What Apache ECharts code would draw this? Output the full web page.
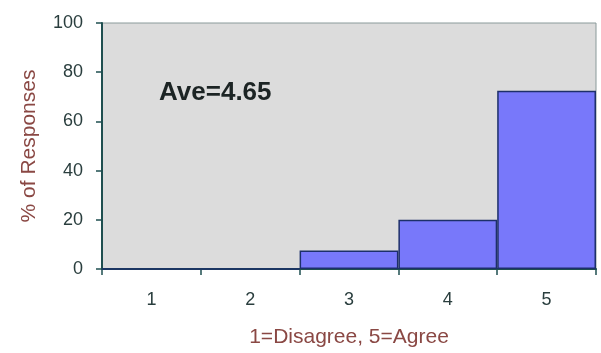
<!DOCTYPE html>
<html>
<head>
<meta charset="utf-8">
<script src="https://cdn.jsdelivr.net/npm/echarts@6/dist/echarts.min.js"></script>
<style>
  html, body { margin: 0; padding: 0; background: #ffffff; }
  #chart { width: 601px; height: 353px; }
</style>
</head>
<body>
<div id="chart"></div>
<script>
// Rating categories (1 = Disagree, 5 = Agree) and share of responses per rating
const categories = ['1', '2', '3', '4', '5'];
const percentResponses = [0, 0, 7.5, 20, 72.5];
const yTicks = { min: 0, max: 100, interval: 20 };
const averageLabel = 'Ave=4.65';
const xTitle = '1=Disagree, 5=Agree';
const yTitle = '% of Responses';

const chart = echarts.init(document.getElementById('chart'), null, { renderer: 'canvas' });

const axisColor = '#1f4f50';
const tickText = '#2a3e3e';
const titleText = '#8a4844';
const font = 'Liberation Sans, Arial, sans-serif';

chart.setOption({
  animation: false,
  backgroundColor: '#ffffff',
  grid: {
    left: 102, right: 5, top: 23, bottom: 82,
    show: true,
    backgroundColor: '#dcdcdc',
    borderColor: '#8a9a9a',
    borderWidth: 1
  },
  xAxis: {
    type: 'category',
    data: categories,
    boundaryGap: true,
    name: xTitle,
    nameLocation: 'middle',
    nameGap: 58,
    nameTextStyle: { color: titleText, fontSize: 21, fontFamily: font },
    axisLine: { show: true, lineStyle: { color: axisColor, width: 2 } },
    axisTick: { show: true, alignWithLabel: false, length: 6, lineStyle: { color: axisColor, width: 1.5 } },
    axisLabel: { color: tickText, fontSize: 18, fontFamily: font, margin: 22 },
    splitLine: { show: false }
  },
  yAxis: {
    type: 'value',
    min: yTicks.min,
    max: yTicks.max,
    interval: yTicks.interval,
    name: yTitle,
    nameLocation: 'middle',
    nameGap: 62,
    nameTextStyle: { color: titleText, fontSize: 21, fontFamily: font },
    axisLine: { show: true, lineStyle: { color: axisColor, width: 2 } },
    axisTick: { show: true, length: 6, lineStyle: { color: axisColor, width: 1.5 } },
    axisLabel: { color: tickText, fontSize: 18, fontFamily: font, margin: 19 },
    splitLine: { show: false }
  },
  series: [{
    type: 'bar',
    data: percentResponses,
    barCategoryGap: '0%',
    itemStyle: {
      color: '#7878fa',
      borderColor: '#1d2f6a',
      borderWidth: 1.5
    }
  }],
  graphic: [{
    type: 'text',
    left: 159,
    top: 80,
    style: {
      text: averageLabel,
      fill: '#1c2424',
      font: 'bold 26px ' + font
    }
  }]
});
</script>
</body>
</html>
